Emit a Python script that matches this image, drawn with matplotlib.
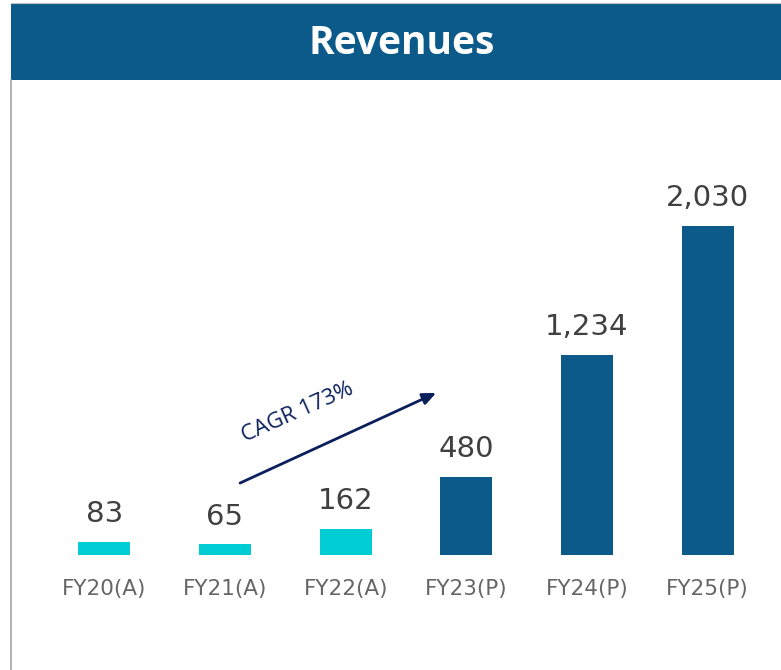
import matplotlib
matplotlib.use("Agg")
import matplotlib.pyplot as plt
from matplotlib.patches import Rectangle
from matplotlib.lines import Line2D

# Revenue by fiscal year (A = actual, P = projected)
categories = ["FY20(A)", "FY21(A)", "FY22(A)", "FY23(P)", "FY24(P)", "FY25(P)"]
revenues = [83, 65, 162, 480, 1234, 2030]
is_actual = [True, True, True, False, False, False]
cagr_label = "CAGR 173%"
title = "Revenues"

ACTUAL_COLOR = "#00CCD4"
PROJ_COLOR = "#0C5A8A"
BANNER_COLOR = "#0C5A8A"
LABEL_COLOR = "#404040"
TICK_COLOR = "#666666"
ARROW_COLOR = "#0A1F5C"

W, H = 781, 670
fig = plt.figure(figsize=(W / 100, H / 100), dpi=100)
fig.patch.set_facecolor("white")

# Header banner and left frame line
fig.add_artist(Rectangle((11 / W, (H - 80) / H), 1 - 11 / W, 77 / H,
                         transform=fig.transFigure, facecolor=BANNER_COLOR,
                         edgecolor="none"))
fig.add_artist(Line2D([11 / W, 11 / W], [0, (H - 80) / H],
                      transform=fig.transFigure, color="#A6A6A6", lw=1.2))
fig.add_artist(Line2D([11 / W, 1], [(H - 3) / H, (H - 3) / H],
                      transform=fig.transFigure, color="#BFBFBF", lw=0.8))
fig.text(402 / W, (H - 44) / H, title, color="white", fontsize=28,
         fontweight="bold", family="Open Sans", ha="center", va="center")

ax = fig.add_axes([44 / W, (H - 555) / H, 724 / W, 455 / H])
x = list(range(len(categories)))
colors = [ACTUAL_COLOR if a else PROJ_COLOR for a in is_actual]
bars = ax.bar(x, revenues, width=0.43, color=colors)

ax.set_xlim(-0.5, len(categories) - 0.5)
ax.set_ylim(0, 2807)
for s in ax.spines.values():
    s.set_visible(False)
ax.set_yticks([])
ax.set_xticks(x)
ax.set_xticklabels(categories, fontsize=15.5, color=TICK_COLOR, family="DejaVu Sans")
ax.tick_params(axis="x", length=0, pad=17)

for xi, v in zip(x, revenues):
    ax.annotate(f"{v:,}", (xi, v), xytext=(0, 10), textcoords="offset points",
                ha="center", va="bottom", fontsize=21, color=LABEL_COLOR,
                family="DejaVu Sans")

# Growth arrow with CAGR annotation
ax.annotate("", xy=(2.75, 1000), xytext=(1.125, 444),
            arrowprops=dict(arrowstyle="-|>,head_length=0.8,head_width=0.35",
                            color=ARROW_COLOR, lw=2, shrinkA=0, shrinkB=0))
ax.text(1.6, 880, cagr_label, rotation=24, ha="center", va="center",
        fontsize=16, color=ARROW_COLOR, family="Open Sans",
        rotation_mode="anchor")

fig.savefig("out.png", dpi=100, facecolor="white")
